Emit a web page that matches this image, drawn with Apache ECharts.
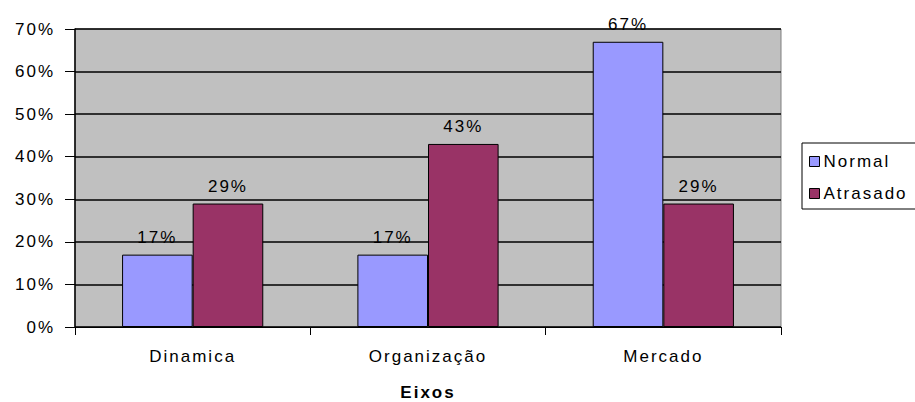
<!DOCTYPE html>
<html>
<head>
<meta charset="utf-8">
<script src="https://cdn.jsdelivr.net/npm/echarts@6/dist/echarts.min.js"></script>
<style>
  html, body { margin: 0; padding: 0; background: #fff; }
  #chart { width: 915px; height: 402px; }
  /* the labels use a loose, wide-tracked look */
  #chart text { letter-spacing: 2px; }
</style>
</head>
<body>
<div id="chart"></div>
<script>
// Share of projects per axis, split by schedule status
const categories = ['Dinamica', 'Organização', 'Mercado'];
const normal = [17, 17, 67];
const atrasado = [29, 43, 29];
const yTicks = [0, 10, 20, 30, 40, 50, 60, 70];

const font = '"Liberation Sans", Arial, sans-serif';
const fs = 17;
const chart = echarts.init(document.getElementById('chart'), null, { renderer: 'svg' });

const barLabel = {
  show: true,
  position: 'top',
  distance: 9,
  color: '#000',
  fontFamily: font,
  fontSize: fs,
  formatter: p => p.value + '%'
};

chart.setOption({
  animation: false,
  textStyle: { fontFamily: font },
  grid: {
    left: 75, right: 134, top: 29, bottom: 75,
    outerBoundsMode: 'none',
    containLabel: false,
    show: true,
    backgroundColor: '#C0C0C0',
    borderColor: '#808080',
    borderWidth: 1
  },
  legend: {
    orient: 'vertical',
    left: 802,
    top: 143,
    data: ['Normal', 'Atrasado'],
    icon: 'rect',
    itemWidth: 10,
    itemHeight: 10,
    itemGap: 15,
    padding: [10, 40, 7, 7],
    borderColor: '#000',
    borderWidth: 1,
    textStyle: { color: '#000', fontFamily: font, fontSize: fs, padding: [0, 0, 0, -1] },
    itemStyle: { borderColor: '#000', borderWidth: 1 }
  },
  xAxis: {
    type: 'category',
    data: categories,
    name: 'Eixos',
    nameLocation: 'middle',
    nameGap: 57,
    nameTextStyle: { color: '#000', fontWeight: 'bold', fontSize: fs, fontFamily: font },
    axisLine: { lineStyle: { color: '#000', width: 1 } },
    axisTick: { show: true, length: 8, lineStyle: { color: '#000' } },
    axisLabel: { color: '#000', fontSize: fs, margin: 21, fontFamily: font }
  },
  yAxis: {
    type: 'value',
    min: yTicks[0],
    max: yTicks[yTicks.length - 1],
    interval: 10,
    axisLine: { show: true, lineStyle: { color: '#000', width: 1.5 } },
    axisTick: { show: true, length: 10, lineStyle: { color: '#000' } },
    axisLabel: { color: '#000', fontSize: fs, margin: 20, fontFamily: font, formatter: '{value}%' },
    splitLine: { show: true, lineStyle: { color: '#000', width: 1.5 } }
  },
  series: [
    {
      name: 'Normal',
      type: 'bar',
      data: normal,
      barGap: '0%',
      barCategoryGap: '40%',
      itemStyle: { color: '#9999FF', borderColor: '#000', borderWidth: 1 },
      label: barLabel
    },
    {
      name: 'Atrasado',
      type: 'bar',
      data: atrasado,
      itemStyle: { color: '#993366', borderColor: '#000', borderWidth: 1 },
      label: barLabel
    }
  ]
});
</script>
</body>
</html>
